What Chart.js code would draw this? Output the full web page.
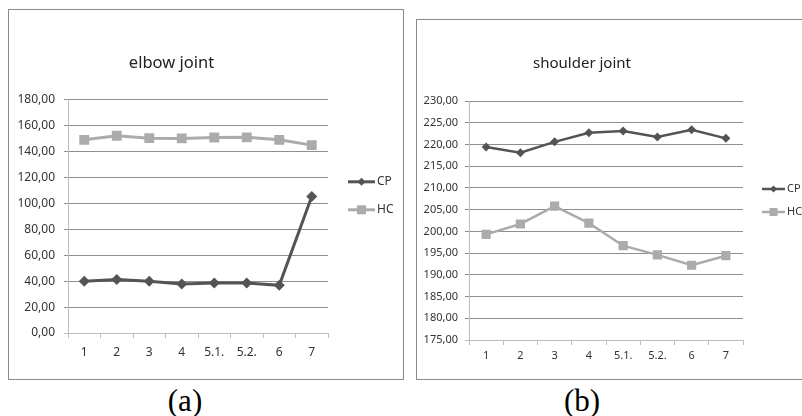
<!DOCTYPE html>
<html>
<head>
<meta charset="utf-8">
<script src="https://cdn.jsdelivr.net/npm/chart.js@4/dist/chart.umd.min.js"></script>
<style>
    html, body { margin: 0; padding: 0; background: #fff; overflow: hidden; }
    body { width: 802px; height: 416px; position: relative; }
    .box { position: absolute; border: 1px solid #8a8a8a; box-sizing: border-box; background: #fff; }
    .box canvas { display: block; }
    .caption { position: absolute; font-family: "Liberation Serif", "Times New Roman", serif; font-size: 31px; line-height: 31px; color: #000; transform: translateX(-50%); }
</style>
</head>
<body>
<div class="box" id="boxA" style="left:8px; top:9px; width:396px; height:371px;"><canvas id="elbowChart"></canvas></div>
<div class="box" id="boxB" style="left:416px; top:19px; width:392px; height:361px;"><canvas id="shoulderChart"></canvas></div>
<div class="caption" style="left:185px; top:385px;">(a)</div>
<div class="caption" style="left:582px; top:385px;">(b)</div>

<script>
// ===== Données =====
const categories = ["1", "2", "3", "4", "5.1.", "5.2.", "6", "7"];
const seriesNames = ["CP", "HC"];

const elbowCP = [40.0, 41.2, 40.0, 37.9, 38.6, 38.6, 36.8, 105.4];
const elbowHC = [149.1, 152.2, 150.4, 150.2, 150.9, 151.0, 149.1, 145.0];
const elbowTicks = [0, 20, 40, 60, 80, 100, 120, 140, 160, 180];

const shoulderCP = [219.4, 218.1, 220.6, 222.7, 223.1, 221.7, 223.4, 221.4];
const shoulderHC = [199.3, 201.7, 205.8, 201.9, 196.7, 194.6, 192.2, 194.4];
const shoulderTicks = [175, 180, 185, 190, 195, 200, 205, 210, 215, 220, 225, 230];

// ===== Styles =====
const FONT = '"Noto Sans", "Open Sans", sans-serif';
const CP_COLOR = "#545454";
const HC_COLOR = "#ababab";
const GRID_COLOR = "#8e8e8e";
const AXIS_COLOR = "#bdbdbd";

function fmt(v) {
    return Number(v).toFixed(2).replace(".", ",");
}

// Légende à droite : trait + marqueur + texte (comme Excel)
function drawMarker(ctx, style, x, y, r) {
    ctx.beginPath();
    if (style === "rectRot") {
        ctx.moveTo(x, y - r);
        ctx.lineTo(x + r, y);
        ctx.lineTo(x, y + r);
        ctx.lineTo(x - r, y);
    } else {
        ctx.rect(x - r, y - r, 2 * r, 2 * r);
    }
    ctx.closePath();
    ctx.fill();
}

const sideLegend = {
    id: "sideLegend",
    afterDraw(chart, args, opts) {
        const ctx = chart.ctx;
        const area = chart.chartArea;
        ctx.save();
        chart.data.datasets.forEach((ds, i) => {
            const x0 = area.right + opts.offset;
            const x1 = x0 + opts.lineLen;
            const y = area.top + opts.rows[i];
            ctx.strokeStyle = ds.borderColor;
            ctx.fillStyle = ds.borderColor;
            ctx.lineWidth = opts.lineWidth;
            ctx.beginPath();
            ctx.moveTo(x0, y);
            ctx.lineTo(x1, y);
            ctx.stroke();
            drawMarker(ctx, ds.pointStyle, (x0 + x1) / 2, y, opts.markerSize[i]);
            ctx.fillStyle = "#333";
            ctx.font = opts.fontSize + "px " + FONT;
            ctx.textBaseline = "middle";
            ctx.textAlign = "left";
            ctx.fillText(ds.label, x1 + 2, y);
        });
        ctx.restore();
    }
};

function makeChart(canvasId, cfg) {
    const ticks = cfg.ticks;
    return new Chart(document.getElementById(canvasId), {
        type: "line",
        data: {
            labels: categories,
            datasets: [
                {
                    label: seriesNames[0],
                    data: cfg.cp,
                    borderColor: CP_COLOR,
                    backgroundColor: CP_COLOR,
                    borderWidth: cfg.lineWidth,
                    pointStyle: "rectRot",
                    pointRadius: cfg.cpRadius,
                    pointBorderWidth: 0,
                    tension: 0
                },
                {
                    label: seriesNames[1],
                    data: cfg.hc,
                    borderColor: HC_COLOR,
                    backgroundColor: HC_COLOR,
                    borderWidth: cfg.lineWidth,
                    pointStyle: "rect",
                    pointRadius: cfg.hcRadius,
                    pointBorderWidth: 0,
                    tension: 0
                }
            ]
        },
        options: {
            responsive: true,
            maintainAspectRatio: false,
            animation: false,
            layout: { padding: cfg.padding },
            scales: {
                x: {
                    offset: true,
                    grid: { offset: true, drawOnChartArea: false, tickLength: 5, color: AXIS_COLOR },
                    border: { color: AXIS_COLOR },
                    ticks: { color: "#333", font: { family: FONT, size: cfg.tickSize }, padding: cfg.xPad, maxRotation: 0, autoSkip: false },
                    afterFit: s => { s.height = cfg.xHeight; }
                },
                y: {
                    min: ticks[0],
                    max: ticks[ticks.length - 1],
                    afterBuildTicks: s => { s.ticks = ticks.map(v => ({ value: v })); },
                    grid: {
                        tickLength: 4,
                        color: c => (c.tick && c.tick.value === ticks[0] ? AXIS_COLOR : GRID_COLOR)
                    },
                    border: { color: AXIS_COLOR },
                    ticks: { color: "#333", font: { family: FONT, size: cfg.tickSize }, padding: cfg.yPad, callback: v => fmt(v) },
                    afterFit: s => { s.width = cfg.yWidth; }
                }
            },
            plugins: {
                legend: { display: false },
                tooltip: { enabled: false },
                title: {
                    display: true,
                    text: cfg.title,
                    color: "#222",
                    font: { family: FONT, size: cfg.titleSize, weight: "normal" },
                    padding: cfg.titlePad
                },
                sideLegend: cfg.legend
            }
        },
        plugins: [sideLegend]
    });
}

document.addEventListener("DOMContentLoaded", () => {
    makeChart("elbowChart", {
        title: "elbow joint",
        cp: elbowCP,
        hc: elbowHC,
        ticks: elbowTicks,
        lineWidth: 3,
        cpRadius: 5.5,
        hcRadius: 7,
        tickSize: 12,
        titleSize: 16.5,
        titlePad: { top: 43, bottom: 27 },
        padding: { left: 6, right: 75, top: 0, bottom: 16 },
        xHeight: 30,
        xPad: 7,
        yPad: 9,
        yWidth: 53,
        legend: { offset: 20, lineLen: 27, lineWidth: 3, rows: [82, 110], markerSize: [4, 4.5], fontSize: 12 }
    });

    makeChart("shoulderChart", {
        title: "shoulder joint",
        cp: shoulderCP,
        hc: shoulderHC,
        ticks: shoulderTicks,
        lineWidth: 2.5,
        cpRadius: 4.5,
        hcRadius: 6.5,
        tickSize: 11,
        titleSize: 15,
        titlePad: { top: 35, bottom: 28 },
        padding: { left: 4, right: 64, top: 0, bottom: 11 },
        xHeight: 28,
        xPad: 4,
        yPad: 7,
        yWidth: 48,
        legend: { offset: 19, lineLen: 23, lineWidth: 2.5, rows: [88, 111], markerSize: [3.5, 4], fontSize: 11 }
    });
});
</script>
</body>
</html>
